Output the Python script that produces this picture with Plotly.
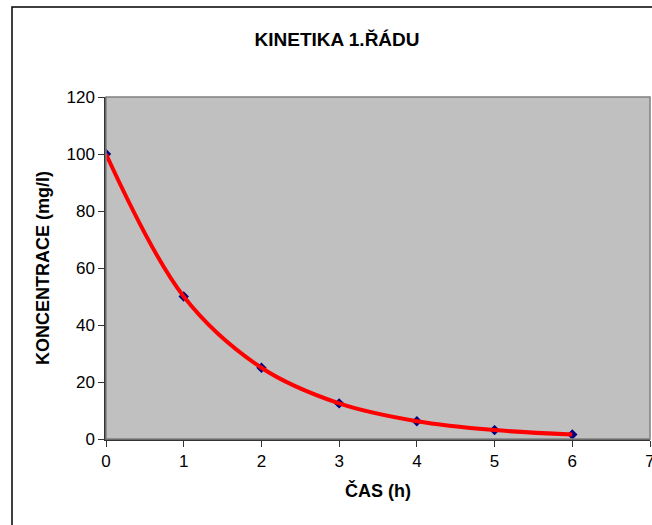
import plotly.graph_objects as go

cas_h = [0, 1, 2, 3, 4, 5, 6]
koncentrace = [100, 50, 25, 12.5, 6.25, 3.125, 1.5625]

W, H = 652, 525
ML, MR, MT, MB = 106, 2, 97, 86
pw = W - ML - MR
ph = H - MT - MB

fig = go.Figure()
fig.add_trace(go.Scatter(
    x=cas_h, y=koncentrace, mode="markers",
    marker=dict(symbol="diamond", size=8, color="#000080"),
    showlegend=False, hoverinfo="skip"))
fig.add_trace(go.Scatter(
    x=cas_h, y=koncentrace, mode="lines",
    line=dict(color="#FF0000", width=4, shape="spline", smoothing=1),
    showlegend=False))

font_family = "Liberation Sans, Arial, sans-serif"

# outer chart border
fig.add_shape(type="rect", xref="paper", yref="paper",
              x0=(12 - ML) / pw, x1=1.2,
              y0=-0.5, y1=(H - MB - 7) / ph,
              line=dict(color="black", width=1.5), layer="below")
# plot area border (gray)
fig.add_shape(type="rect", xref="paper", yref="paper",
              x0=0, x1=1, y0=0, y1=1,
              line=dict(color="#808080", width=1.5), layer="above")

fig.update_layout(
    width=W, height=H,
    margin=dict(l=ML, r=MR, t=MT, b=MB, autoexpand=False),
    paper_bgcolor="white", plot_bgcolor="#C0C0C0",
    title=dict(text="<b>KINETIKA 1.ŘÁDU</b>", x=337 / W, xanchor="center",
               y=1 - 39 / H, yanchor="middle",
               font=dict(family=font_family, size=19, color="black")),
    xaxis=dict(range=[0, 7], tickvals=[0, 1, 2, 3, 4, 5, 6, 7],
               showgrid=False, zeroline=False, automargin=False,
               showline=True, linecolor="#333333", linewidth=1.5,
               ticks="outside", ticklen=6, tickcolor="#333333",
               ticklabeloverflow="allow",
               tickfont=dict(family=font_family, size=17, color="black"),
               title=dict(text="<b>ČAS (h)</b>", standoff=14,
                          font=dict(family=font_family, size=18, color="black"))),
    yaxis=dict(range=[0, 120], tickvals=[0, 20, 40, 60, 80, 100, 120],
               showgrid=False, zeroline=False, automargin=False,
               showline=True, linecolor="#333333", linewidth=1.5,
               ticks="outside", ticklen=6, tickcolor="#333333",
               tickfont=dict(family=font_family, size=17, color="black"),
               title=dict(text="<b>KONCENTRACE (mg/l)</b>", standoff=12,
                          font=dict(family=font_family, size=18, color="black"))),
)

fig.write_html("out.html")
